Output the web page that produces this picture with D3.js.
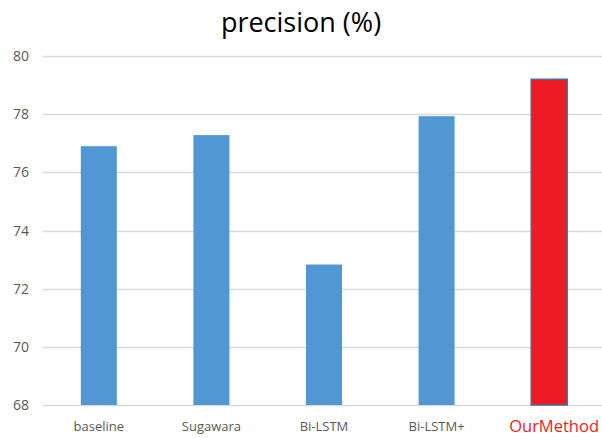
<!DOCTYPE html>
<html><head><meta charset="utf-8">
<script src="https://cdn.jsdelivr.net/npm/d3@7"></script>
<style>body{margin:0;background:#fff;overflow:hidden}</style>
</head><body><svg id="c" width="602" height="438"></svg>
<script>
const categories = ["baseline","Sugawara","Bi-LSTM","Bi-LSTM+","OurMethod"];
const values = [76.9, 77.28, 72.83, 77.93, 79.2];
const yTicks = [68,70,72,74,76,78,80];
const title = "precision (%)";

const svg = d3.select("#c");
const font = "Open Sans, Liberation Sans, sans-serif";
const x = d3.scaleBand().domain(categories).range([42.5, 605.5]).paddingInner(0.68).paddingOuter(0.34);
const y = d3.scaleLinear().domain([68,80]).range([405,56]);

svg.append("text").attr("x",301).attr("y",32).attr("text-anchor","middle")
  .attr("font-family",font).attr("font-size",27).attr("fill","#000").text(title);

svg.append("g").selectAll("line").data(yTicks).join("line")
  .attr("x1",43).attr("x2",602).attr("y1",d=>Math.round(y(d))+0.5).attr("y2",d=>Math.round(y(d))+0.5)
  .attr("stroke","#D9D9D9").attr("stroke-width",1.3);

svg.append("g").selectAll("text").data(yTicks).join("text")
  .attr("x",29).attr("y",d=>y(d)+5).attr("text-anchor","end")
  .attr("font-family",font).attr("font-size",14).attr("fill","#595959").text(d=>d);

const bw = 36;
svg.append("g").selectAll("rect").data(categories).join("rect")
  .attr("x",(d)=>x(d)+x.bandwidth()/2-bw/2)
  .attr("y",(d,i)=>y(values[i]))
  .attr("width",bw)
  .attr("height",(d,i)=>y(68)-y(values[i]))
  .attr("fill",(d,i)=>i===4?"#ED1C24":"#5097D3")
  .attr("stroke",(d,i)=>i===4?"#41719C":"none")
  .attr("stroke-width",1.5);

svg.append("g").selectAll("text").data(categories).join("text")
  .attr("x",(d,i)=>i===4?599:x(d)+x.bandwidth()/2)
  .attr("y",(d,i)=>i===4?432:431)
  .attr("text-anchor",(d,i)=>i===4?"end":"middle")
  .attr("font-family",font)
  .attr("font-size",(d,i)=>i===4?16.5:13)
  .attr("fill",(d,i)=>i===4?"#ED1C24":"#595959")
  .text(d=>d);
</script></body></html>
